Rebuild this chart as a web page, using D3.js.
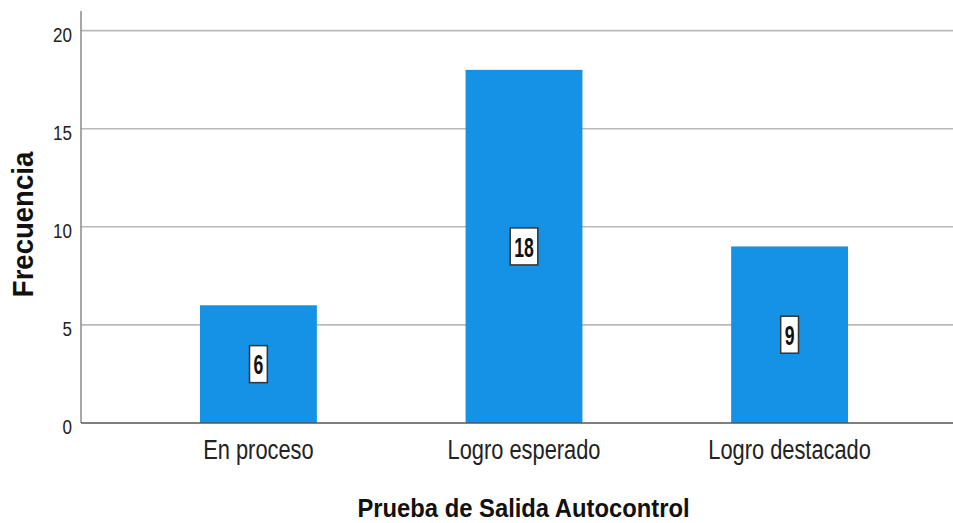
<!DOCTYPE html>
<html>
<head>
<meta charset="utf-8">
<script src="https://cdn.jsdelivr.net/npm/d3@7"></script>
<style>
  body { margin: 0; background: #fff; }
  svg { display: block; }
  text { font-family: "Liberation Sans", Arial, sans-serif; }
</style>
</head>
<body>
<div id="chart"></div>
<script>
// datos del grafico
var categorias = ["En proceso", "Logro esperado", "Logro destacado"];
var frecuencias = [6, 18, 9];
var ticksY = [0, 5, 10, 15, 20];

var W = 953, H = 523;
var plot = { left: 81, right: 953, top: 11, bottom: 423 };

// la fuente original es estrecha: se comprime en horizontal
var estrechoTick = 0.81, estrechoCat = 0.78, estrechoValor = 0.63;

var svg = d3.select("#chart").append("svg")
  .attr("width", W)
  .attr("height", H);

var y = d3.scaleLinear()
  .domain([0, 21])
  .range([plot.bottom, plot.top]);

var x = d3.scaleBand()
  .domain(categorias)
  .range([200, 848])
  .paddingInner(0.56)
  .paddingOuter(0);

// lineas de cuadricula
svg.append("g")
  .selectAll("line")
  .data(ticksY.filter(function(d){ return d > 0; }))
  .enter()
  .append("line")
  .attr("x1", plot.left)
  .attr("x2", plot.right)
  .attr("y1", function(d){ return y(d); })
  .attr("y2", function(d){ return y(d); })
  .attr("stroke", "#b9b9b9")
  .attr("stroke-width", 1.6);

// eje Y
var ejeY = svg.append("g")
  .attr("transform", "translate(" + plot.left + ",0)")
  .call(d3.axisLeft(y).tickValues(ticksY).tickSize(0));
ejeY.select(".domain").remove();
ejeY.selectAll("text")
  .attr("x", -9 / estrechoTick)
  .attr("dy", "0.5em")
  .attr("transform", "scale(" + estrechoTick + ",1)")
  .style("font-size", "21px")
  .attr("fill", "#222");

svg.append("line")
  .attr("x1", plot.left).attr("x2", plot.left)
  .attr("y1", plot.top).attr("y2", plot.bottom)
  .attr("stroke", "#8a8a8a")
  .attr("stroke-width", 1.5);

// barras
svg.selectAll("rect.barra")
  .data(frecuencias)
  .enter()
  .append("rect")
  .attr("class", "barra")
  .attr("x", function(d, i){ return x(categorias[i]); })
  .attr("width", x.bandwidth())
  .attr("y", function(d){ return y(d); })
  .attr("height", function(d){ return y(0) - y(d); })
  .attr("fill", "#1591e6");

// eje X
var ejeX = svg.append("g")
  .attr("transform", "translate(0," + plot.bottom + ")")
  .call(d3.axisBottom(x).tickSize(0).tickPadding(16));
ejeX.select(".domain").remove();
ejeX.selectAll("text")
  .attr("transform", "scale(" + estrechoCat + ",1)")
  .style("font-size", "28px")
  .attr("fill", "#222");
ejeX.selectAll(".tick")
  .attr("transform", function(d){ return "translate(" + (x(d) + x.bandwidth() / 2) + ",0)"; });

svg.append("line")
  .attr("x1", plot.left).attr("x2", plot.right)
  .attr("y1", plot.bottom).attr("y2", plot.bottom)
  .attr("stroke", "#555")
  .attr("stroke-width", 1.6);

// etiquetas de valor
var etiquetas = svg.selectAll("g.etiqueta")
  .data(frecuencias)
  .enter()
  .append("g")
  .attr("class", "etiqueta")
  .attr("transform", function(d, i){
    return "translate(" + (x(categorias[i]) + x.bandwidth() / 2) + "," + y(d / 2) + ")";
  });

etiquetas.append("text")
  .text(function(d){ return d; })
  .attr("text-anchor", "middle")
  .attr("dy", "0.36em")
  .attr("transform", "scale(" + estrechoValor + ",1)")
  .style("font-size", "28px")
  .style("font-weight", "bold")
  .attr("fill", "#111")
  .each(function(){
    var b = this.getBBox();
    var w = b.width * estrechoValor + 8;
    d3.select(this.parentNode).insert("rect", "text")
      .attr("x", -w / 2)
      .attr("y", -18.5)
      .attr("width", w)
      .attr("height", 37)
      .attr("fill", "#fff")
      .attr("stroke", "#333")
      .attr("stroke-width", 1.5);
  });

// titulos de ejes
svg.append("text")
  .attr("transform", "translate(523.5,517) scale(0.915,1)")
  .attr("text-anchor", "middle")
  .style("font-size", "26px")
  .style("font-weight", "bold")
  .attr("fill", "#111")
  .text("Prueba de Salida Autocontrol");

svg.append("text")
  .attr("transform", "translate(33,224.5) rotate(-90) scale(0.95,1)")
  .attr("text-anchor", "middle")
  .style("font-size", "29px")
  .style("font-weight", "bold")
  .attr("fill", "#111")
  .text("Frecuencia");
</script>
</body>
</html>
